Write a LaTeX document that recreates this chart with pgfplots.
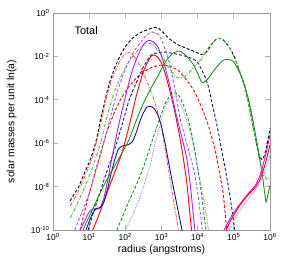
\documentclass[border=0pt]{standalone}
\usepackage{pgfplots}
\pgfplotsset{compat=1.18}
\usepackage{fontspec}
\setmainfont{Liberation Sans}
\definecolor{cnavy}{RGB}{20,20,140}
\definecolor{cgreen}{RGB}{30,145,30}
\definecolor{clgreen}{RGB}{80,180,80}
\definecolor{cred}{RGB}{255,0,0}
\definecolor{clred}{RGB}{255,95,95}
\definecolor{cpurple}{RGB}{160,40,240}
\definecolor{cpurpled}{RGB}{175,80,255}
\definecolor{clav}{RGB}{140,140,225}
\definecolor{cmag}{RGB}{235,0,235}
\begin{document}
\begin{tikzpicture}
\begin{axis}[
  name=ax,
  xmode=log, ymode=log,
  scale only axis, width=217bp, height=217bp,
  xmin=1, xmax=1e6, ymin=1e-10, ymax=1,
  xtick={1,10,100,1000,10000,100000,1000000},
  xticklabels={10\textsuperscript{0},10\textsuperscript{1},10\textsuperscript{2},10\textsuperscript{3},10\textsuperscript{4},10\textsuperscript{5},10\textsuperscript{6}},
  ytick={1e-10,1e-8,1e-6,1e-4,1e-2,1},
  yticklabels={10\textsuperscript{-10},10\textsuperscript{-8},10\textsuperscript{-6},10\textsuperscript{-4},10\textsuperscript{-2},10\textsuperscript{0}},
  xminorticks=false, yminorticks=false,
  tick align=inside, major tick length=5bp,
  tick style={draw=black!30, line width=0.8bp},
  axis line style={draw=black!40, line width=0.6bp},
  ticklabel style={font=\fontsize{8.5}{10}\selectfont},
  label style={font=\fontsize{10.5}{12}\selectfont},
  xlabel={radius (angstroms)},
  ylabel={solar masses per unit ln(a)},
  xlabel style={at={(axis description cs:0.5,-0.092)}, anchor=center},
  ylabel style={at={(axis description cs:-0.191,0.5)}, anchor=center},
  every axis plot/.append style={line width=0.9bp, smooth, tension=0.3},
]
% Total (black dashed)
\addplot[black, dash pattern=on 3bp off 2bp] coordinates {
(2.95,2.19e-9)(3.98,4.9e-9)(5.01,9.1e-9)(6.31,2.24e-8)(7.94,5.5e-8)(10,1.32e-7)(12.6,3.89e-7)(15.8,1.41e-6)(20.0,9.5e-6)(25.1,4.8e-5)(31.6,2.57e-4)(39.8,9.3e-4)(50.1,2.82e-3)(63.1,6.8e-3)(79.4,1.48e-2)(100,2.82e-2)(158,6.9e-2)(251,0.120)(398,0.166)(631,0.219)(794,0.204)(1000,0.151)(1585,6.8e-2)(2512,3.89e-2)(3981,2.69e-2)(6310,2.0e-2)(1e4,1.45e-2)(12589,1.23e-2)(15849,1.35e-2)(19953,2.09e-2)(25119,3.89e-2)(31623,6.0e-2)(39811,6.8e-2)(50119,5.9e-2)(63096,3.89e-2)(79433,2.29e-2)(1e5,1.10e-2)(125893,3.98e-3)(158489,1.32e-3)(199526,4.57e-4)(251189,8.3e-5)(316228,1.17e-5)(398107,1.74e-6)(501187,2.69e-7)(630957,1.78e-7)(794328,6.0e-7)(1e6,5.0e-6)};
% red dash-dot
\addplot[clred, dash pattern=on 3.5bp off 1.5bp on 1bp off 1.5bp] coordinates {
(3.0,1.29e-9)(5.01,5.9e-9)(7.94,3.55e-8)(12.6,2.51e-7)(20.0,5.6e-6)(31.6,1.70e-4)(50.1,1.82e-3)(79.4,8.5e-3)(100,1.26e-2)(126,1.51e-2)(158,1.20e-2)(200,7.2e-3)(251,3.8e-3)(316,1.74e-3)(398,6.9e-4)(501,2.69e-4)(631,9.3e-5)(794,2.57e-5)(1000,5.0e-6)(1259,5.1e-7)(1585,5.1e-8)(1995,4.7e-9)(2512,4.9e-10)(3162,5e-11)};
% green dash-dot (bimodal)
\addplot[clgreen, dash pattern=on 3.5bp off 1.5bp on 1bp off 1.5bp] coordinates {
(3.0,3.55e-10)(5.01,2.09e-9)(7.94,1.17e-8)(12.6,8.3e-8)(20.0,8.3e-7)(31.6,1.82e-5)(50.1,2.40e-4)(79.4,1.41e-3)(126,5.75e-3)(200,1.62e-2)(316,3.24e-2)(447,4.07e-2)(631,3.16e-2)(1000,1.12e-2)(1585,3.02e-3)(2512,1.12e-3)(3548,1.0e-3)(5012,1.38e-3)(7943,3.24e-3)(12589,7.4e-3)(19953,2.57e-2)(31623,6.0e-2)(39811,6.8e-2)(50119,5.9e-2)(79433,2.29e-2)(125893,3.98e-3)(199526,3.72e-4)(316228,9.5e-6)(501187,2.09e-7)(630957,5.0e-8)(794328,2.14e-8)(1e6,2.51e-8)};
% red dashed
\addplot[cred, dash pattern=on 3bp off 2bp] coordinates {
(5.62,1e-10)(7.94,1.07e-9)(12.6,1.95e-8)(20.0,2.88e-7)(31.6,3.72e-6)(50.1,2.69e-5)(79.4,1.29e-4)(126,4.07e-4)(200,1.0e-3)(316,1.91e-3)(501,2.95e-3)(794,3.8e-3)(1259,3.98e-3)(1995,3.24e-3)(3162,2.0e-3)(5012,7.8e-4)(7943,2.63e-4)(12589,4.9e-5)(19953,6.2e-6)(31623,3.55e-7)(50119,5.6e-9)(63096,1.23e-10)(70795,3e-11)};
% navy dashed
\addplot[cnavy, dash pattern=on 3bp off 2bp] coordinates {
(9.33,1e-10)(12.6,5.0e-10)(20.0,5.5e-9)(31.6,5.75e-8)(50.1,4.9e-7)(79.4,6.2e-6)(126,9.1e-5)(200,6.2e-4)(316,3.31e-3)(501,1.10e-2)(794,1.48e-2)(1259,1.58e-2)(2512,1.29e-2)(5012,9.8e-3)(7943,7.2e-3)(1e4,5.25e-3)(12589,2.63e-3)(15849,1.17e-3)(19953,3.89e-4)(25119,6.6e-5)(31623,1.23e-5)(39811,1.82e-6)(50119,2.29e-7)(63096,2.95e-8)(79433,3.1e-9)(1e5,2.1e-10)(112202,5e-11)};
% red solid
\addplot[cred] coordinates {
(12.6,1e-10)(20.0,6.8e-10)(31.6,5.5e-9)(50.1,4.27e-8)(79.4,3.24e-7)(126,5.75e-6)(200,1.48e-4)(316,2.04e-3)(501,9.8e-3)(631,1.15e-2)(794,9.1e-3)(1000,5.0e-3)(1259,1.66e-3)(1585,4.07e-4)(1995,8.9e-5)(2512,1.55e-5)(3162,2.14e-6)(3981,2.19e-7)(5012,1.48e-8)(6310,3.2e-10)(7079,5e-11)};
% purple solid
\addplot[cpurple] coordinates {
(5.62,1e-10)(7.94,3.2e-10)(10,6.8e-10)(12.6,9.3e-10)(15.8,9.3e-10)(20.0,1.02e-9)(25.1,2.69e-9)(31.6,1.48e-8)(39.8,1.15e-7)(50.1,7.9e-7)(63.1,5.25e-6)(79.4,2.75e-5)(100,1.32e-4)(126,6.3e-4)(158,2.45e-3)(200,7.1e-3)(251,1.70e-2)(316,3.47e-2)(398,5.1e-2)(501,5.4e-2)(631,4.37e-2)(794,2.75e-2)(1000,1.07e-2)(1259,3.1e-3)(1585,7.2e-4)(1995,1.38e-4)(2512,2.34e-5)(3162,4.9e-6)(3981,1.05e-6)(5012,1.95e-7)(6310,1.07e-8)(7943,2.34e-10)(8913,5e-11)};
% purple dashed
\addplot[cpurpled, dash pattern=on 3bp off 2bp] coordinates {
(3.98,1e-10)(6.31,6.6e-10)(10,4.57e-9)(15.8,6.0e-8)(25.1,9.3e-7)(39.8,1.91e-5)(63.1,3.09e-4)(100,2.51e-3)(158,1.35e-2)(251,3.98e-2)(398,0.102)(562,0.132)(794,0.105)(1000,5.75e-2)(1259,2.14e-2)(1585,6.6e-3)(1995,1.26e-3)(2512,1.66e-4)(3162,1.82e-5)(3981,3.98e-6)(5012,9.5e-7)(6310,2.4e-7)(7943,5.0e-8)(1e4,5.5e-9)(12023,4.9e-10)(14125,5e-11)};
% lavender dotted
\addplot[clav, dash pattern=on 0.9bp off 1.1bp] coordinates {
(100,1e-10)(158,5.0e-10)(251,3.0e-9)(398,3.24e-8)(501,1.17e-7)(631,6.6e-7)(794,2.95e-6)(1000,1.17e-5)(1259,4.27e-5)(1585,9.1e-5)(1995,1.32e-4)(2512,1.32e-4)(3162,8.3e-5)(3981,3.31e-5)(5012,1.05e-5)(6310,2.82e-6)(7943,5.75e-7)(1e4,7.2e-8)(12589,1.0e-8)(15849,1.32e-9)(19953,1e-10)(22387,5e-11)};
% green dashed
\addplot[cgreen, dash pattern=on 3bp off 2bp] coordinates {
(58.9,1e-10)(79.4,3.47e-10)(126,2.14e-9)(200,1.17e-8)(316,7.9e-8)(501,8.1e-7)(794,7.9e-6)(1000,2.24e-5)(1259,6.6e-5)(1585,1.26e-4)(1995,2.04e-4)(2512,2.04e-4)(3162,1.41e-4)(3981,6.2e-5)(5012,2.09e-5)(6310,4.8e-6)(7943,7.6e-7)(1e4,7.2e-8)(12589,5.5e-9)(15849,2.45e-10)(17783,5e-11)};
% navy solid
\addplot[cnavy] coordinates {
(8.13,1e-10)(10,2.45e-10)(12.6,6.3e-10)(15.8,9.5e-10)(20.0,1.10e-9)(25.1,1.82e-9)(31.6,6.8e-9)(39.8,3.63e-8)(50.1,1.58e-7)(63.1,5.0e-7)(79.4,7.2e-7)(100,7.9e-7)(126,8.9e-7)(158,1.20e-6)(200,3.09e-6)(251,1.0e-5)(316,2.51e-5)(398,4.68e-5)(501,5.0e-5)(631,3.89e-5)(794,2.0e-5)(1000,5.9e-6)(1259,9.8e-7)(1585,1.23e-7)(1995,1.62e-8)(2512,2.4e-9)(3162,3.55e-10)(3548,1.38e-10)(3981,5e-11)};
% green solid
\addplot[cgreen] coordinates {
(6.76,1e-10)(7.94,1.82e-10)(12.6,9.3e-10)(20.0,5.1e-9)(31.6,2.24e-8)(50.1,8.7e-8)(79.4,3.39e-7)(126,1.45e-6)(200,1.10e-5)(316,6.8e-5)(501,3.24e-4)(794,1.26e-3)(1259,5.4e-3)(1995,1.35e-2)(3162,1.78e-2)(5012,1.02e-2)(7943,3.72e-3)(12589,6.8e-4)(14125,6.0e-4)(19953,1.0e-3)(31623,2.88e-3)(50119,6.6e-3)(70795,7.4e-3)(1e5,5.6e-3)(158489,1.32e-3)(251189,1.15e-4)(316228,2.04e-5)(398107,2.51e-6)(501187,2.82e-7)(630957,2.34e-8)(776247,1.95e-9)(870964,4.07e-9)(1e6,1.17e-8)};
% large-grain tails
\addplot[cmag] coordinates {
(5.37e4,1e-10)(8.91e4,4.9e-10)(1.48e5,1.58e-9)(2.45e5,4.57e-9)(3.80e5,1.07e-8)(5.25e5,3.09e-8)(7.24e5,2.09e-7)(1e6,2.4e-6)};
\addplot[cred] coordinates {
(6.03e4,1e-10)(8.91e4,3.55e-10)(1.48e5,1.41e-9)(2.45e5,4.07e-9)(3.80e5,8.7e-9)(5.25e5,2.0e-8)(7.24e5,1.0e-7)(1e6,8.3e-7)};
\addplot[clav, dash pattern=on 0.9bp off 1.1bp] coordinates {
(7.41e4,1e-10)(1.23e5,4.9e-10)(2.04e5,1.74e-9)(3.39e5,5.1e-9)(5.25e5,1.48e-8)(7.24e5,4.7e-8)(1e6,2.88e-7)};
\node[anchor=west, font=\fontsize{11}{13}\selectfont] at (rel axis cs:0.083,0.917) {Total};
\end{axis}
\pgfresetboundingbox
\path ([shift={(-53bp,-28bp)}]ax.south west) rectangle ([shift={(23bp,13bp)}]ax.north east);
\end{tikzpicture}
\end{document}
